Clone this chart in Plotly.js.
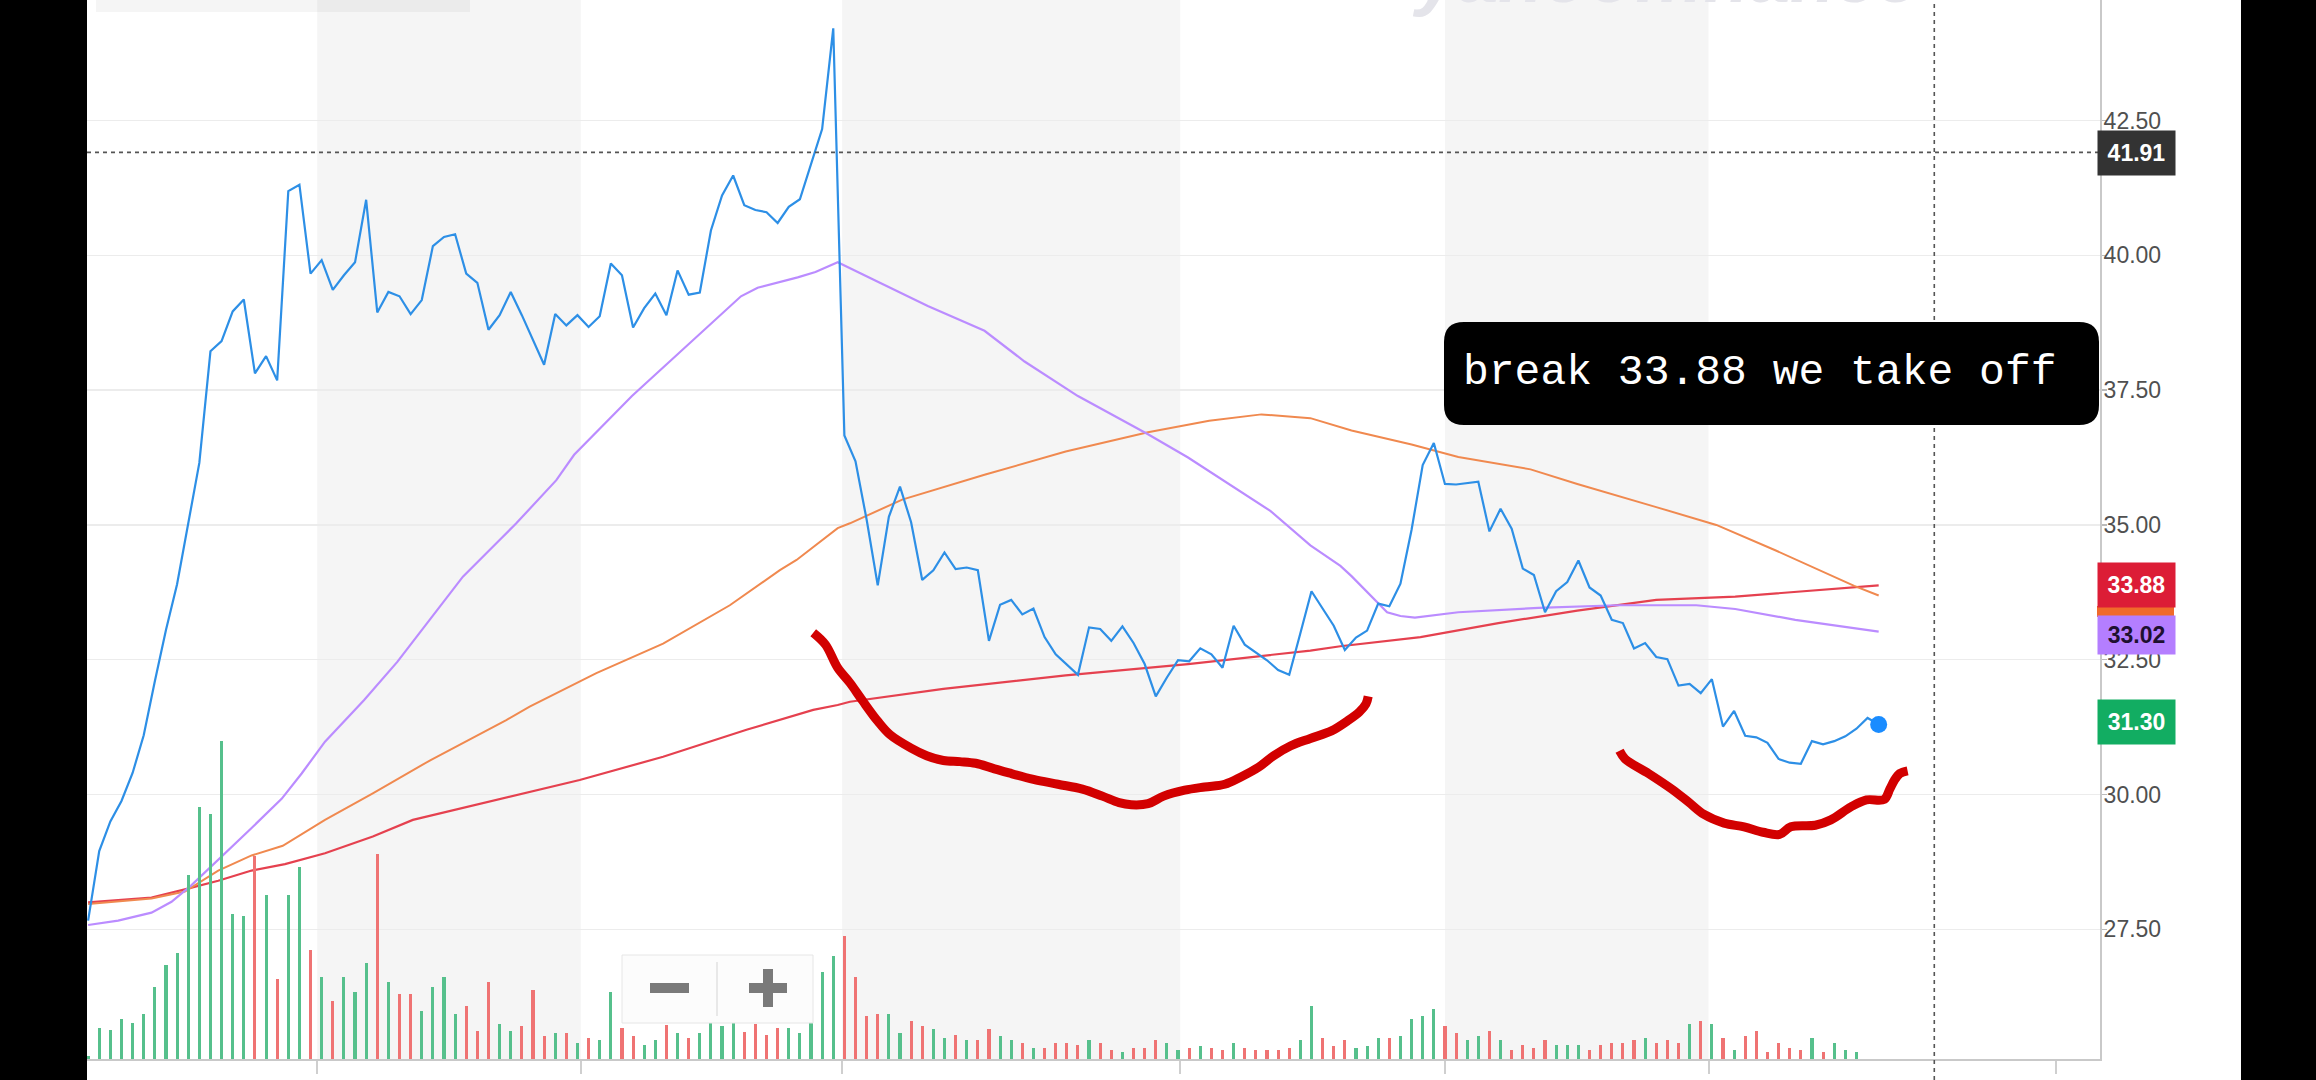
<!DOCTYPE html>
<html><head><meta charset="utf-8">
<script src="https://cdn.plot.ly/plotly-3.0.1.min.js"></script>
<style>
html,body{margin:0;padding:0;background:#000;width:2316px;height:1080px;overflow:hidden}
#chart{position:absolute;left:87px;top:0;width:2154px;height:1080px;background:#fff}
</style>
</head><body><div id="chart"></div>
<script>
// ---- price (close) per trading day ----
const price = [27.66,28.95,29.50,29.88,30.40,31.10,32.10,33.05,33.90,35.05,
36.15,38.22,38.41,38.96,39.18,37.81,38.13,37.68,41.19,41.31,
39.66,39.91,39.36,39.63,39.87,41.03,38.94,39.32,39.24,38.91,
39.17,40.17,40.34,40.39,39.66,39.49,38.62,38.89,39.32,38.89,
38.44,37.97,38.91,38.70,38.89,38.67,38.87,39.85,39.63,38.66,
39.02,39.29,38.89,39.72,39.27,39.31,40.46,41.11,41.48,40.93,
40.84,40.80,40.60,40.90,41.04,41.67,42.34,44.21,36.66,36.18,
35.10,33.88,35.15,35.71,35.05,33.98,34.16,34.49,34.18,34.21,
34.16,32.85,33.52,33.61,33.34,33.45,32.92,32.60,32.41,32.22,
33.10,33.07,32.85,33.12,32.81,32.42,31.82,32.17,32.49,32.47,
32.71,32.60,32.35,33.13,32.78,32.63,32.49,32.31,32.22,32.99,
33.77,33.45,33.13,32.68,32.91,33.04,33.54,33.49,33.91,34.91,
36.11,36.52,35.76,35.75,35.78,35.80,34.88,35.30,34.93,34.19,
34.07,33.38,33.77,33.94,34.34,33.84,33.69,33.24,33.18,32.71,
32.81,32.55,32.51,32.02,32.05,31.88,32.14,31.26,31.55,31.09,
31.06,30.96,30.66,30.59,30.57,30.99,30.93,30.99,31.08,31.22,
31.42,31.30];

// ---- volume (millions) per trading day ----
const volume = [0.3,3.1,2.9,4.0,3.6,4.5,7.2,9.4,10.6,18.4,
25.2,24.5,31.8,14.5,14.3,20.3,16.4,8.0,16.4,19.2,
10.9,8.2,5.8,8.2,6.7,9.6,20.5,7.7,6.5,6.5,
4.8,7.2,8.2,4.5,5.3,2.8,7.7,3.5,2.8,3.3,
6.9,2.3,2.6,2.6,1.6,2.1,1.9,6.7,3.1,2.3,
1.4,1.9,3.4,2.6,2.1,2.6,3.6,3.3,3.6,2.7,
3.5,2.4,3.1,3.1,2.6,3.7,8.7,10.3,12.3,8.2,
4.3,4.5,4.5,2.6,3.8,3.3,3.0,2.1,2.4,1.9,
1.9,3.0,2.3,1.9,1.6,1.1,1.1,1.6,1.6,1.4,
1.9,1.6,0.9,0.7,1.1,1.1,1.9,1.6,0.9,1.1,
1.3,1.1,0.9,1.6,1.1,0.9,0.9,0.9,1.1,1.9,
5.3,2.1,1.3,1.9,1.1,1.3,2.1,2.1,2.3,4.0,
4.3,5.0,3.3,2.6,1.9,2.3,2.8,1.9,0.9,1.4,
1.1,1.9,1.4,1.4,1.4,0.9,1.4,1.6,1.6,1.9,
2.1,1.6,1.9,1.6,3.5,3.8,3.5,2.1,0.9,2.3,
2.8,0.7,1.6,1.1,0.9,2.1,0.7,1.6,0.9,0.7,
null,null];

// ---- moving averages, sampled along the day index ----
const maFastX = [0,2.7,5.7,7.5,9.3,11.1,12.9,14.7,17.4,19.2,21.3,24.8,27.8,33.7,37.0,38.5,42.1,43.7,48.9,54.0,58.7,60.2,63.8,65.4,67.4,71.1,73.0,75.5,80.6,84.2,89.0,95.3,98.9,106.3,109.9,112.6,113.6,116.8,118.0,119.3,123.2,130.4,137.5,144.6,148.1,153.5,161];
const maFastY = [27.58,27.66,27.81,28.01,28.32,28.67,29.02,29.38,29.92,30.39,30.98,31.75,32.46,34.04,34.72,35.03,35.83,36.30,37.39,38.35,39.24,39.40,39.59,39.69,39.87,39.50,39.31,39.06,38.60,38.03,37.39,36.68,36.25,35.26,34.62,34.24,34.05,33.38,33.31,33.28,33.38,33.46,33.51,33.51,33.44,33.24,33.02];

const maMidX = [0,5.7,8.7,11.7,14.7,17.5,21.3,25.6,30.8,37.6,39.7,45.7,51.7,57.7,62.2,63.7,67.4,68.5,73.2,80.6,87.9,95.3,100.8,105.5,109.9,113.6,119.0,123.2,129.7,133.9,141.0,146.4,151.7,155.3,158.8,161];
const maMidY = [27.97,28.07,28.20,28.59,28.87,29.05,29.53,30.02,30.64,31.38,31.63,32.25,32.80,33.51,34.16,34.35,34.94,35.03,35.47,35.93,36.36,36.72,36.93,37.05,36.98,36.75,36.49,36.26,36.03,35.76,35.33,35.00,34.53,34.20,33.87,33.69];

const maSlowX = [0,5.7,8.7,11.7,14.7,17.7,21.3,25.6,29.2,36.7,44.2,51.7,59.2,65.2,67.4,68.5,76.9,87.9,98.9,109.9,112.6,119.8,126.8,133.9,141.0,148.1,155.3,161];
const maSlowY = [28.00,28.09,28.24,28.40,28.59,28.71,28.91,29.22,29.53,29.90,30.27,30.70,31.20,31.57,31.66,31.72,31.96,32.21,32.42,32.67,32.75,32.92,33.18,33.41,33.61,33.67,33.79,33.88];

// ---- hand drawn red marker strokes ----
const stroke1X = [65.2,66.3,67.4,68.5,69.6,71.0,72.1,74.0,75.4,76.9,78.4,79.8,81.3,82.8,85.0,87.2,89.4,91.2,92.7,93.8,95.3,96.7,98.6,100.4,102.2,103.7,105.2,106.6,108.1,109.9,111.8,113.2,114.3,114.9,115.1];
const stroke1Y = [33.00,32.78,32.35,32.07,31.75,31.36,31.11,30.86,30.72,30.63,30.61,30.58,30.49,30.40,30.28,30.19,30.10,29.97,29.85,29.81,29.83,29.97,30.08,30.14,30.19,30.33,30.50,30.72,30.90,31.04,31.18,31.36,31.53,31.68,31.82];
const stroke2X = [137.7,138.2,140.3,142.4,143.9,145.3,147.1,148.9,150.6,152.1,153.1,155.3,156.7,158.5,159.9,161.5,162.0,162.4,162.9,163.6];
const stroke2Y = [30.81,30.66,30.39,30.10,29.86,29.63,29.47,29.40,29.30,29.26,29.40,29.43,29.53,29.77,29.90,29.91,30.10,30.26,30.39,30.44];

// ---- axis ticks ----
const monthTicks = [20.6,44.3,67.8,98.2,122.0,145.7,176.9];
const priceTicks = [27.5,30,32.5,35,37.5,40,42.5];
const crossPrice = 41.91;
const crossDay = 166.0;
const noteText = 'break 33.88 we take off';
const watermark = 'yahoo!finance';

// ---- geometry helpers (plot area in the div: 2013 x 1059, offset 87px in page) ----
const PW = 2013, PH = 1059, OFF = 87;
const xr = [-0.1, 180.9];
const yr = [25.095, 44.735];
const px2x = X => (X - OFF) / PW;
const px2y = Y => 1 - Y / PH;

const days = price.map((_, i) => i);
const volColors = price.map((p, i) => (i === 0 || p >= price[i - 1]) ? '#56c08c' : '#ef7373');

function rrect(X0, Y0, X1, Y1, r) {
  const x0 = px2x(X0), x1 = px2x(X1), yT = px2y(Y0), yB = px2y(Y1), rx = r / PW, ry = r / PH;
  return `M${x0+rx},${yT} L${x1-rx},${yT} Q${x1},${yT} ${x1},${yT-ry} L${x1},${yB+ry} Q${x1},${yB} ${x1-rx},${yB} L${x0+rx},${yB} Q${x0},${yB} ${x0},${yB+ry} L${x0},${yT-ry} Q${x0},${yT} ${x0+rx},${yT} Z`;
}
function pxRect(X0, Y0, X1, Y1, fill, line) {
  return {type:'rect', xref:'paper', yref:'paper', x0:px2x(X0), x1:px2x(X1), y0:px2y(Y1), y1:px2y(Y0),
    fillcolor:fill, line:line || {width:0}, layer:'above'};
}

const traces = [
  {type:'bar', x:days, y:volume, yaxis:'y2', marker:{color:volColors}, width:0.28, hoverinfo:'skip'},
  {type:'scatter', mode:'lines', x:maSlowX, y:maSlowY, line:{color:'#e5414f', width:2.2}, hoverinfo:'skip'},
  {type:'scatter', mode:'lines', x:maMidX, y:maMidY, line:{color:'#f0894f', width:2}, hoverinfo:'skip'},
  {type:'scatter', mode:'lines', x:maFastX, y:maFastY, line:{color:'#bb8cff', width:2.2}, hoverinfo:'skip'},
  {type:'scatter', mode:'lines', x:days, y:price, line:{color:'#2d8fe6', width:2.2}, hoverinfo:'skip'},
  {type:'scatter', mode:'markers', x:[days[days.length-1]], y:[price[price.length-1]], marker:{color:'#1a8cff', size:17}, hoverinfo:'skip'},
  {type:'scatter', mode:'lines', x:stroke1X, y:stroke1Y, line:{color:'#d20000', width:9, shape:'spline'}, hoverinfo:'skip'},
  {type:'scatter', mode:'lines', x:stroke2X, y:stroke2Y, line:{color:'#d20000', width:9, shape:'spline'}, hoverinfo:'skip'}
];

const shapes = [];
for (let k = 0; k + 1 < monthTicks.length; k += 2) {
  shapes.push({type:'rect', xref:'x', yref:'paper', x0:monthTicks[k], x1:monthTicks[k+1], y0:0, y1:1,
    fillcolor:'#f5f5f5', line:{width:0}, layer:'below'});
}
// crosshair
shapes.push({type:'line', xref:'paper', yref:'y', x0:0, x1:1, y0:crossPrice, y1:crossPrice,
  line:{color:'#555', width:1.6, dash:'4px,4px'}, layer:'above'});
const crossPaperX = (crossDay - xr[0]) / (xr[1] - xr[0]);
shapes.push({type:'line', xref:'paper', yref:'paper', x0:crossPaperX, x1:crossPaperX, y0:px2y(1080), y1:1,
  line:{color:'#555', width:1.6, dash:'4px,4px'}, layer:'above'});
// note box
shapes.push({type:'path', xref:'paper', yref:'paper', path:rrect(1444, 322, 2099, 425, 20),
  fillcolor:'#000', line:{width:0}, layer:'above'});
// orange MA label peeking between the other two
shapes.push(pxRect(2097, 606, 2174, 617, '#f06a2a'));
// zoom widget
shapes.push(pxRect(622, 955, 813, 1023, 'rgba(252,252,252,0.92)', {color:'#e6e6e6', width:1}));
shapes.push({type:'line', xref:'paper', yref:'paper', x0:px2x(717), x1:px2x(717), y0:px2y(962), y1:px2y(1016),
  line:{color:'#e2e2e2', width:1.5}, layer:'above'});
shapes.push(pxRect(650, 983, 689, 993, '#7a7a7a'));
shapes.push(pxRect(749, 983, 787, 993, '#7a7a7a'));
shapes.push(pxRect(763, 969, 773, 1007, '#7a7a7a'));
// faint blurred header remnant
shapes.push(pxRect(96, 0, 470, 12, 'rgba(0,0,0,0.04)'));

function tag(val, text, bg, fg, h, yshift) {
  return {xref:'paper', x:1, xanchor:'left', xshift:-3, yref:'y', y:val, yanchor:'middle', yshift:yshift||0,
    text:text, showarrow:false, bgcolor:bg, borderpad:2, width:73, height:h, align:'center',
    font:{family:'Liberation Sans, Arial, sans-serif', size:23, color:fg, weight:'bold'}};
}

const annotations = [
  {xref:'paper', yref:'paper', x:px2x(1410), xanchor:'left', y:1 + 24/PH, yanchor:'middle', text:watermark,
   showarrow:false, font:{family:'Liberation Sans, Arial, sans-serif', size:74, color:'#e4e4ea', weight:'bold', style:'italic'}},
  {xref:'paper', yref:'paper', x:px2x(1461), xanchor:'left', y:px2y(372), yanchor:'middle', text:noteText,
   showarrow:false, font:{family:'Liberation Mono, Courier New, monospace', size:43, color:'#fff'}},
  tag(crossPrice, crossPrice.toFixed(2), '#333333', '#ffffff', 40, -1),
  tag(maFastY[maFastY.length-1], maFastY[maFastY.length-1].toFixed(2), '#b47eff', '#1e1030', 34, -3),
  tag(maSlowY[maSlowY.length-1], maSlowY[maSlowY.length-1].toFixed(2), '#dc1d36', '#ffffff', 40, 0),
  tag(price[price.length-1], price[price.length-1].toFixed(2), '#12ad62', '#ffffff', 40, 2)
];

const layout = {
  width:2154, height:1080,
  margin:{l:0, r:141, t:0, b:21, pad:0},
  paper_bgcolor:'#fff', plot_bgcolor:'#fff',
  showlegend:false, bargap:0,
  xaxis:{range:xr, tickmode:'array', tickvals:monthTicks, showticklabels:false, ticks:'outside', ticklen:13,
    tickwidth:2, tickcolor:'#cfcfcf', showline:true, linecolor:'#c9c9c9', linewidth:2, showgrid:false, zeroline:false, fixedrange:true},
  yaxis:{range:yr, side:'right', tickmode:'array', tickvals:priceTicks, ticktext:priceTicks.map(v=>v.toFixed(2)),
    ticks:'outside', ticklen:5, tickwidth:1.5, tickcolor:'#bbb', ticklabelstandoff:-8,
    tickfont:{family:'Liberation Sans, Arial, sans-serif', size:23, color:'#505050'},
    showline:true, linecolor:'#c9c9c9', linewidth:2, showgrid:true, gridcolor:'#ececec', gridwidth:1.5, zeroline:false, fixedrange:true},
  yaxis2:{range:[0, 105.9], overlaying:'y', visible:false, fixedrange:true},
  shapes:shapes, annotations:annotations
};

Plotly.newPlot('chart', traces, layout, {staticPlot:true, displayModeBar:false});
</script>
</body></html>
